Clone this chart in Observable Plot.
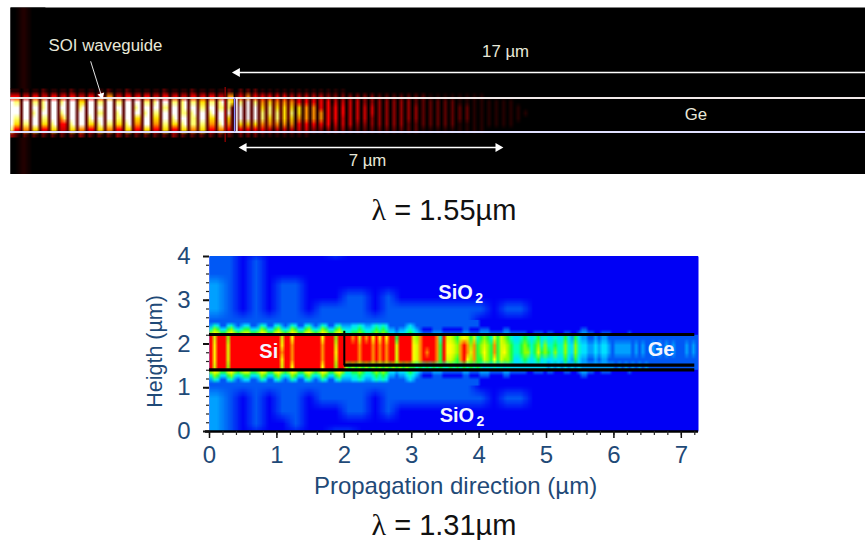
<!DOCTYPE html>
<html><head><meta charset="utf-8">
<script src="https://cdn.jsdelivr.net/npm/d3@7"></script>
<script src="https://cdn.jsdelivr.net/npm/@observablehq/plot@0.6"></script>
<style>
html,body{margin:0;background:#fff;}
#page{position:relative;width:865px;height:540px;overflow:hidden;font-family:"Liberation Sans",Arial,sans-serif;}
#top,#bottom{position:absolute;left:0;}
#top{top:0}
#bottom{top:240px}
.cap{position:absolute;left:0;width:888px;text-align:center;font-size:29px;color:#111;line-height:30px;height:30px}
.cap i{font-family:"Liberation Serif",serif;font-style:normal;font-size:30px}
g[aria-label="outer"] image{filter:blur(5px)}
g[aria-label="glow"] image{filter:blur(10px)}
g[aria-label="halo"] image{filter:blur(1.4px)}
g[aria-label="core"] image{filter:blur(.5px)}
</style></head><body>
<div id="page">
<div id="top"></div>
<div class="cap" style="top:195px"><i>λ</i> = 1.55µm</div>
<div id="bottom"></div>
<div class="cap" style="top:510px"><i>λ</i> = 1.31µm</div>
</div>
<script>
// ---- λ = 1.55 µm panel: field intensity read per stripe, digit 0 (black) .. 9 (white)
const siStripes = [
 "1 110 110 110 210 110 110 210 110 110 110 210 110 210 110 110 110 210 110 110 210 110 110 110 21",
 "5 551 441 551 441 551 451 551 441 551 451 661 441 551 451 551 441 551 451 441 551 451 551 441 66",
 "9 882 992 882 892 992 892 992 772 992 882 992 882 992 992 882 892 992 882 892 882 772 882 892 87",
 "9 992 992 992 892 992 992 992 892 992 992 992 992 992 892 992 992 882 992 892 992 882 992 882 82",
 "9 992 992 892 992 992 892 992 992 992 882 992 892 992 992 892 882 992 992 882 892 992 892 992 92",
 "9 882 992 992 882 992 682 992 992 892 992 992 882 992 772 992 772 992 892 992 882 992 772 992 72",
 "9 772 882 992 772 892 552 892 992 772 892 882 772 892 662 992 662 882 772 892 882 882 662 892 62",
 "8 552 662 772 552 772 442 772 662 552 772 662 552 772 552 772 552 772 552 772 662 772 552 662 52",
 "3 210 210 210 210 210 210 210 320 210 210 210 320 210 210 210 210 210 320 210 210 210 210 210 21"
];
const geStripes = [
 "02 02 02 01 01 01 01 01 01 01 01 01 01 01 01 00 00 00 00 00 00 00 00 00 00 00 00 00 00 00 00 00 00 00 00 00 00 00 00 00 00 00 00 00 00",
 "25 26 25 25 25 15 15 14 14 14 14 14 13 13 03 03 03 03 03 02 02 02 02 02 02 02 01 01 01 01 01 01 01 01 00 00 00 00 00 00 00 00 00 00 00",
 "28 29 28 26 27 26 26 26 25 15 15 15 15 04 04 04 04 03 03 03 03 03 03 03 02 02 02 02 02 02 01 01 01 01 01 01 01 01 00 00 00 00 00 00 00",
 "29 29 29 27 28 27 27 27 17 16 16 15 15 15 05 04 04 04 04 03 03 03 03 03 03 02 02 02 02 02 02 02 01 01 01 01 01 01 01 00 00 00 00 00 00",
 "29 29 29 28 28 28 27 28 17 16 16 16 15 15 05 04 04 04 04 03 03 03 03 03 03 02 02 02 02 02 02 02 01 01 01 01 01 01 01 01 00 00 00 00 00",
 "29 29 29 28 27 28 27 27 16 16 16 16 15 15 04 04 04 04 03 03 03 03 03 03 03 02 02 02 02 02 02 02 01 01 01 01 01 01 01 00 00 00 00 00 00",
 "27 27 27 26 26 26 16 16 15 15 15 15 15 04 04 04 03 03 03 03 03 03 03 02 02 02 02 02 02 02 01 01 01 01 01 01 01 01 00 00 00 00 00 00 00",
 "25 25 25 25 24 14 14 14 14 14 13 13 03 03 03 02 02 02 02 02 02 02 02 02 02 01 01 01 01 01 01 01 01 01 00 00 00 00 00 00 00 00 00 00 00",
 "02 02 02 01 01 01 01 01 01 01 00 00 00 00 00 00 00 00 00 00 00 00 00 00 00 00 00 00 00 00 00 00 00 00 00 00 00 00 00 00 00 00 00 00 00"
];
const glowTop = ["0100","0100","0100"];
const glowBottom = ["0100","0100"];
const hotDomain = [0,1,2,3,4,5,6,7,8,9];
const hotRange = ["#000000","#240000","#5c0000","#900000","#d00000","#ff0000","#ff9000","#ffe000","#ffff70","#ffffff"];
const topArrows = [{a:"17 µm",x:7.3,y:3.31},{a:"7 µm",x:3.58,y:0.377},{a:"Ge",x:12.43,y:1.617},{a:"SOI waveguide",x:-3.48,y:3.476}];

// ---- λ = 1.31 µm panel: field levels, digit 0 (blue) .. a (red)
const coreField = [
 "a7aaa6aaaa aaaaaaaaaa a7aa8aaaaa aaa8aaa6aa aa9a7a9a8a 8a8aa5aaaa 769aaaa94a 7765787574 5654757654 3345434534 3343353253 2211212211 1111111111 1111111111 11111",
 "a8aaa7aaaa aaaaaaaaaa a8aa9aaaaa aaa9aaa7aa aaaa9aaa9a 9a9aa7aaaa 879aaaa95a 88769a9695 6765957765 4456545646 4454464364 3322323321 2222212121 1212121211 12121",
 "a8aaa7aaaa aaaaaaaaaa a9aa9aaaaa aaa9aaa8aa aaaa9aaa9a 9a9aa7aaaa 879a9aa95a 88769a9795 6865957865 4456645756 5464464364 3322323321 2222212121 1212121211 12121",
 "a8aaa7aaaa aaaaaaaaaa a8aa9aaaaa aaa9aaa7aa aaaa9aaa9a 9a9aa7aaaa 879aaaa95a 77659a8695 5765857665 3345434534 3343353253 2211212211 1111111111 1111111111 11111",
 "a7aaa6aaaa aaaaaaaaaa a7aa8aaaaa aaa8aaa6aa 6565656565 6565656565 5454545454 4545454545 4343434343 3333333333 2323232323 2222222222 1212121212 1111111111 11111"
];
// from the core outwards
const haloField = [
 "6875578656 7755687557 8656875578 6568755786 4455654456 5653323345 4321112221 1111122111 2221111221 1111001110 1100011001 2211001110 0000100000 0000000000 00000",
 "4653356434 5533465335 6434653356 4346533564 3344543345 4542212234 3210001110 0000011000 1110000110 0000000000 0000000000 1100000000 0000000000 0000000000 00000",
 "2431134212 3311243113 4212431134 2124311342 2233432234 3431111123 2111111111 1111111111 0000000000 0000000000 0000000000 0000000000 0000000000 0000000000 00000",
 "1111111111 1111111111 1111111111 1111111111 1111111111 1111111111 1111111111 1111111111 0000000000 0000000000 0000000000 0000000000 0000000000 0000000000 00000"
];
const outerTop = [
 "1100000001 0000000000 0000000000 0000000",
 "1101000000 0000000000 0000000000 0000000",
 "1101000000 0000000000 0000000000 0000000",
 "2101011000 0000000000 0000000000 0000000",
 "2101011000 1101000000 0000000000 0000000",
 "2101011011 1101111111 1011000000 0000000",
 "1111111111 1111111111 0000000000 0000000"
];
const outerBottom = [
 "1111111111 1111111111 0000000000 0000000",
 "2101011011 1101111111 1011000000 0000000",
 "2101011000 1101000000 0000000000 0000000",
 "2101001000 0000000000 0000000000 0000000",
 "2100000001 1000000000 0000000000 0000000"
];
const jetDomain = [0,1,2,3,4,5,6,7,8,9,10];
const jetRange = ["#0000f5","#0058f5","#00a0ff","#00e0ff","#00ffc0","#20ff40","#90ff00","#d8ff00","#ffff00","#ff9000","#ff0000"];
const xMajor = [0,1,2,3,4,5,6,7];
const yMajor = [0,1,2,3,4];
const xMinor = d3.range(0,37).map(i=>i/5);
const yMinor = d3.range(0,20).map(i=>i/5);
const materials = [{t:"Si",x:0.88,y:1.83},{t:"SiO",x:3.65,y:3.18},{t:"SiO",x:3.67,y:0.37},{t:"Ge",x:6.7,y:1.88}];
const subscripts = [{t:"2",x:4.0,y:3.04},{t:"2",x:4.02,y:0.23}];
const inkBlue = "#1f4a78";

const clean = r => r.replace(/ /g,"");
const grid = (rows,o) => Plot.raster(
  rows.flatMap(r => [...clean(r)].map(c => parseInt(c,16))),
  {fill:d=>d, width:clean(rows[0]).length, height:rows.length, clip:true, ...o});

document.getElementById("top").append(Plot.plot({
  width:865,height:174,marginLeft:10,marginRight:0,marginTop:7,marginBottom:0,
  x:{domain:[-6.04,17],axis:null},y:{domain:[0,4.5],axis:null},
  color:{type:"linear",domain:hotDomain,range:hotRange},
  style:{background:"transparent",fontFamily:"Liberation Sans"},
  marks:[
    Plot.frame({fill:"black",stroke:"none"}),
    grid(glowTop,{x1:-6.04,x2:-5.1,y1:4.5,y2:2.3,ariaLabel:"glow"}),
    grid(glowBottom,{x1:-6.04,x2:-5.1,y1:1,y2:0,ariaLabel:"glow"}),
    grid(siStripes,{x1:-6.04,x2:-0.03,y1:2.317,y2:0.997}),
    grid(geStripes,{x1:0.015,x2:8.87,y1:2.317,y2:0.997}),
    Plot.ruleX([-0.256],{y1:0.862,y2:2.344,stroke:"#c00000",strokeWidth:1}),
    Plot.ruleY([2.061],{x1:-6.04,x2:17,stroke:"#f0e8e8",strokeWidth:2}),
    Plot.ruleY([1.145],{x1:-6.04,x2:17,stroke:"#e0e0ff",strokeWidth:2}),
    Plot.ruleX([0.0],{y1:1.145,y2:2.061,stroke:"#9090ff",strokeWidth:1.5}),
    Plot.ruleX([0.06],{y1:1.145,y2:2.061,stroke:"#ffffff",strokeWidth:1.5}),
    Plot.link([1],{x1:17,x2:0.1,y1:2.749,y2:2.749,stroke:"#fff",strokeWidth:1.6}),
    Plot.dot([1],{x:0.07,y:2.749,symbol:"triangle",r:3.4,rotate:-90,fill:"#fff",stroke:"none"}),
    Plot.link([1],{x1:0.25,x2:7.14,y1:0.728,y2:0.728,stroke:"#fff",strokeWidth:1.6}),
    Plot.dot([1],{x:0.25,y:0.728,symbol:"triangle",r:3.4,rotate:-90,fill:"#fff",stroke:"none"}),
    Plot.dot([1],{x:7.1,y:0.728,symbol:"triangle",r:3.4,rotate:90,fill:"#fff",stroke:"none"}),
    Plot.link([1],{x1:-3.88,y1:3.05,x2:-3.6,y2:2.15,stroke:"#fff",strokeWidth:0.9}),
    Plot.dot([1],{x:-3.59,y:2.13,symbol:"triangle",r:2.6,rotate:163,fill:"#fff",stroke:"none"}),
    Plot.text(topArrows,{x:"x",y:"y",text:"a",fill:"#e8e8d8",fontSize:16.8})
  ]
}));

document.getElementById("bottom").append(Plot.plot({
  width:865,height:270,marginLeft:209,marginRight:167,marginTop:16,marginBottom:79,
  x:{domain:[0,7.255]},y:{domain:[0,4]},
  color:{type:"linear",domain:jetDomain,range:jetRange},
  style:{background:"transparent",fontFamily:"Liberation Sans",overflow:"visible"},
  marks:[
    Plot.frame({fill:"#0000f5",stroke:"none"}),
    grid(outerTop,{x1:0,x2:7.255,y1:4.3,y2:2.4,ariaLabel:"outer"}),
    grid(outerBottom,{x1:0,x2:7.255,y1:1.2,y2:-0.25,ariaLabel:"outer"}),
    grid(haloField.slice().reverse(),{x1:0,x2:7.255,y1:2.55,y2:2.21,ariaLabel:"halo"}),
    grid(haloField,{x1:0,x2:7.255,y1:1.41,y2:1.05,ariaLabel:"halo"}),
    grid(coreField,{x1:0,x2:7.255,y1:2.21,y2:1.41,ariaLabel:"core"}),
    Plot.ruleY([2.217],{x1:0,x2:7.2,stroke:"black",strokeWidth:3.2}),
    Plot.ruleY([1.41],{x1:0,x2:7.2,stroke:"black",strokeWidth:3.2}),
    Plot.ruleY([1.515],{x1:2,x2:7.2,stroke:"black",strokeWidth:3.2}),
    Plot.ruleX([2],{y1:1.5,y2:2.29,stroke:"black",strokeWidth:2}),
    Plot.ruleY([0],{x1:-0.06,x2:7.255,stroke:"black",strokeWidth:2.5}),
    Plot.axisX(xMinor,{tickSize:4,tickFormat:()=>"",stroke:"#222",strokeWidth:1.2,label:null}),
    Plot.axisY(yMinor,{tickSize:3,tickFormat:()=>"",stroke:"#222",strokeWidth:1.2,label:null}),
    Plot.axisX(xMajor,{tickSize:7,tickPadding:7,fontSize:24,fill:inkBlue,stroke:"#111",strokeWidth:1.5,label:null}),
    Plot.axisY(yMajor,{tickSize:6,tickPadding:13,fontSize:24,fill:inkBlue,stroke:"#111",strokeWidth:2,label:null}),
    Plot.text(["Propagation direction (µm)"],{x:3.65,y:-1.257,fontSize:24,fill:inkBlue}),
    Plot.text(["Heigth (µm)"],{x:-0.8,y:1.83,rotate:-90,fontSize:21.5,fill:inkBlue}),
    Plot.text(materials,{x:"x",y:"y",text:"t",fill:"#f4f4ff",fontSize:20,fontWeight:"bold"}),
    Plot.text(subscripts,{x:"x",y:"y",text:"t",fill:"#f4f4ff",fontSize:14,fontWeight:"bold"})
  ]
}));
</script>
</body></html>
